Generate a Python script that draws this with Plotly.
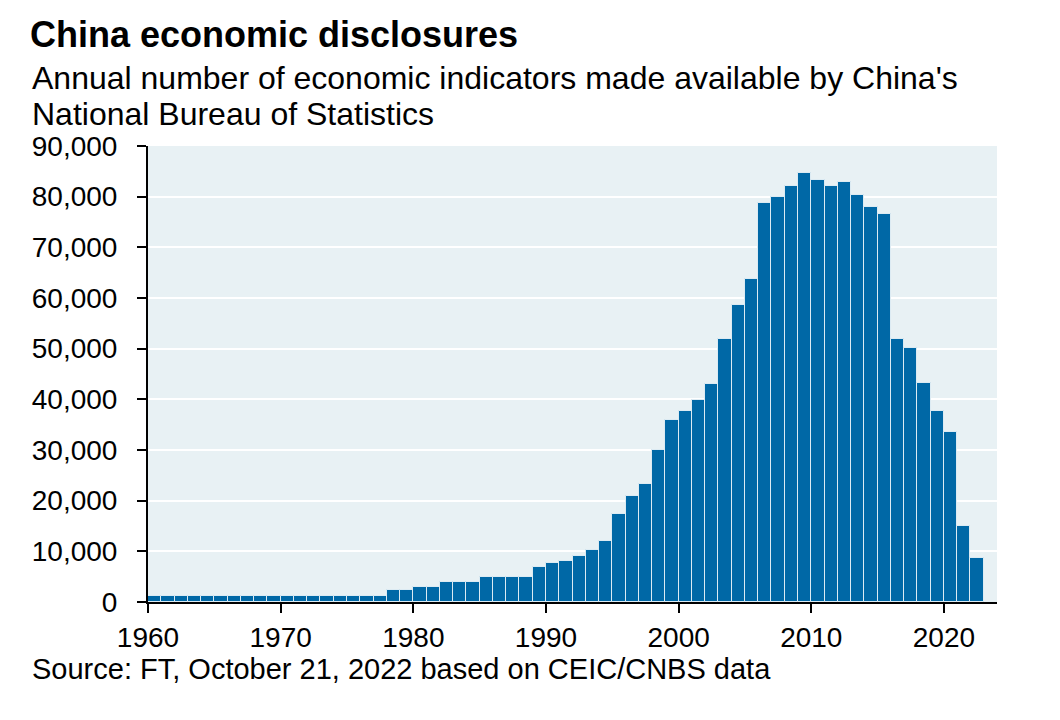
import plotly.graph_objects as go

# annual count of indicators published by NBS
years = list(range(1960, 2023))
indicators = (
    [1150] * 18                                   # 1960-1977
    + [2350, 2350, 3050, 3050, 3900, 3900, 3900,  # 1978-1984
       5000, 5000, 5000, 5000, 6950, 7700, 8100,  # 1985-1991
       9150, 10350, 12050, 17300, 21000, 23350,   # 1992-1997
       29950, 35900, 37750, 39950, 42950, 51900,  # 1998-2003
       58600, 63800, 78800, 79850, 82100, 84650,  # 2004-2009
       83300, 82100, 82800, 80300, 78000, 76500,  # 2010-2015
       51900, 50050, 43300, 37750, 33650, 15000,  # 2016-2021
       8750]                                      # 2022
)

y_ticks = list(range(0, 90001, 10000))
x_ticks = list(range(1960, 2021, 10))

BAR = "#0068a6"
BG = "#e8f1f4"
FONT = "Liberation Sans, Arial, sans-serif"

# page has ~8px body margin, so plot box is placed 8px up/left of the target
L, R, T, B = 140, 71, 138, 126
PW = 1060 - L - R
LEFT_X = (22 - L) / PW   # text column starts at x=30 on screen

fig = go.Figure()
fig.add_trace(go.Bar(
    x=years,
    y=indicators,
    width=1,
    offset=0,
    marker=dict(color=BAR, line=dict(color="#dcebf3", width=1)),
    hovertemplate="%{x}: %{y:,}<extra></extra>",
))

fig.update_layout(
    width=1060,
    height=720,
    margin=dict(l=L, r=R, t=T, b=B),
    paper_bgcolor="white",
    plot_bgcolor=BG,
    font=dict(family=FONT, size=28, color="black"),
    showlegend=False,
    bargap=0,
    title=dict(
        text="<b>China economic disclosures</b>",
        font=dict(size=36, color="black"),
        x=22 / 1060, xanchor="left",
        y=1 - 26 / 720, yanchor="middle",
    ),
)

# subtitle, two lines, plus the source line
for txt, ypos in [
    ("Annual number of economic indicators made available by China's", 1.150),
    ("National Bureau of Statistics", 1.070),
]:
    fig.add_annotation(text=txt, xref="paper", yref="paper",
                       x=LEFT_X, y=ypos, xanchor="left", yanchor="middle",
                       showarrow=False, font=dict(size=32, color="black"))

fig.add_annotation(text="Source: FT, October 21, 2022 based on CEIC/CNBS data",
                   xref="paper", yref="paper", x=LEFT_X, y=-0.148,
                   xanchor="left", yanchor="middle", showarrow=False,
                   font=dict(size=29, color="black"))

fig.update_xaxes(
    range=[1960, 2024],
    tickvals=x_ticks,
    ticks="outside", ticklen=9, tickwidth=2, tickcolor="black",
    showline=True, linecolor="black", linewidth=2,
    showgrid=False, zeroline=False,
    ticklabelstandoff=0,
)
fig.update_yaxes(
    range=[0, 90000],
    tickvals=y_ticks,
    tickformat=",d",
    ticks="outside", ticklen=9, tickwidth=2, tickcolor="black",
    showline=True, linecolor="black", linewidth=2,
    showgrid=True, gridcolor="white", gridwidth=2,
    zeroline=False,
    ticklabelstandoff=14,
)

fig.write_html("out.html")
